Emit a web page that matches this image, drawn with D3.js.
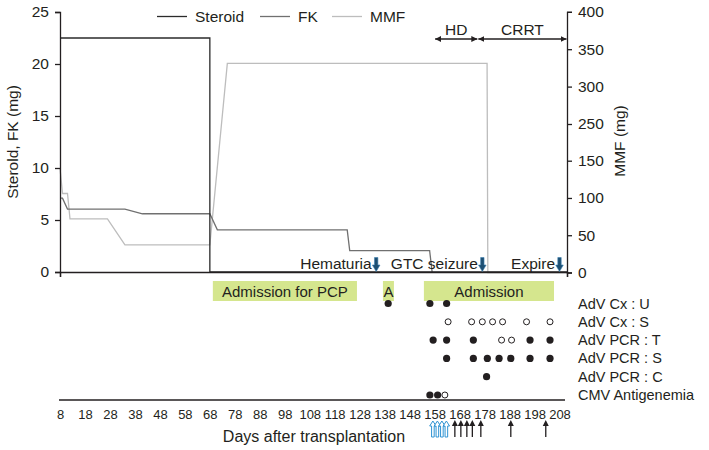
<!DOCTYPE html>
<html><head><meta charset="utf-8">
<script src="https://cdn.jsdelivr.net/npm/d3@7"></script>
<style>body{margin:0;background:#fff} text{font-family:"Liberation Sans",Arial,sans-serif;fill:#231f20}</style>
</head><body><svg id="c" width="709" height="450"></svg>
<script>
// ---- data ----
const steroid = [[8,22.5],[68,22.5],[68,0],[211,0]];
const fk = [[8,7.1],[9,7.1],[11,6.05],[34,6.05],[41,5.6],[68,5.6],[71,4.05],[123,4.05],[124,2.05],[156,2.05],[157,0]];
const mmf = [[8,140],[9,106],[11,106],[12,72],[27,72],[34,37],[68,37],[75,331],[179,331],[179.3,0],[211,0]];
const leftTicks = [0,5,10,15,20,25];
const rightTicks = [0,50,100,150,250,300,350,400];
const dayTicks = [8,18,28,38,48,58,68,78,88,98,108,118,128,138,148,158,168,178,188,198,208];
const periodLabels = ["HD","CRRT"];
const periodFrom = [158,175.3];
const periodTo = [175.3,211];
const eventLabels = ["Hematuria","GTC seizure","Expire"];
const eventDays = [134.6,177.1,208];
const admitLabels = ["Admission for PCP","A","Admission"];
const admitFrom = [69.2,137.3,153.7];
const admitTo = [126.9,141.7,205.8];
const rowLabels = ["AdV Cx : U","AdV Cx : S","AdV PCR : T","AdV PCR : S","AdV PCR : C","CMV Antigenemia"];
const rowPositive = [[139.4,156.1,162.8],[],[157.4,162.8,173.5,196.2,204.2],[162.8,173.5,179.1,183.8,188.5,196.2,204.2],[178.8],[156.1,159.2]];
const rowNegative = [[],[163.4,172.8,177.1,181.2,185.2,194.8,204.2],[184.8,188.8],[],[],[162.1]];
const blueArrowDays = [157.3,159.1,160.9,162.7];
const blackArrowDays = [166.1,168.5,170.9,173.1,176.5,188.5,202.5];

// ---- drawing ----
const svg = d3.select("#c");
const x = d3.scaleLinear().domain([8,211]).range([60,567]);
const yL = d3.scaleLinear().domain([0,25]).range([272,12]);
const yR = d3.scaleLinear().domain([0,150,250,400]).range([272.5,160.7,124,11.8]);
const FS = "15.5px";

const defs = svg.append("defs");
defs.append("marker").attr("id","ah").attr("viewBox","0 0 10 10").attr("refX",10).attr("refY",5)
  .attr("markerWidth",6).attr("markerHeight",6).attr("markerUnits","userSpaceOnUse").attr("orient","auto-start-reverse")
  .append("path").attr("d","M0,0L10,5L0,10Z").attr("fill","#231f20");

// lines
const lineL = d3.line().x(d=>x(d[0])).y(d=>yL(d[1]));
const lineR = d3.line().x(d=>x(d[0])).y(d=>yR(d[1]));
svg.append("path").attr("d",lineR(mmf)).attr("fill","none").attr("stroke","#bdbdbd").attr("stroke-width",1.3);
svg.append("path").attr("d",lineL(fk)).attr("fill","none").attr("stroke","#707070").attr("stroke-width",1.3);
svg.append("path").attr("d",lineL(steroid)).attr("fill","none").attr("stroke","#2b2b2b").attr("stroke-width",1.3);

// axes
const axL = svg.append("g").attr("transform","translate(60,0)")
  .call(d3.axisLeft(yL).tickValues(leftTicks).tickSize(5).tickPadding(6));
const axR = svg.append("g").attr("transform","translate(567,0)")
  .call(d3.axisRight(yR).tickValues(rightTicks).tickSize(5).tickPadding(6));
const axB = svg.append("g").attr("transform","translate(0,272)")
  .call(d3.axisBottom(x).tickValues([8,211]).tickSize(5).tickFormat(""));
[axL,axR,axB].forEach(a=>{
  a.selectAll("path,line").attr("stroke","#231f20").attr("stroke-width",1.3);
  a.selectAll("text").attr("font-size",FS).attr("fill","#231f20").style("font-family","'Liberation Sans',Arial,sans-serif");
});

// axis titles
svg.append("text").attr("transform","translate(18,142) rotate(-90)").attr("text-anchor","middle")
  .attr("font-size",FS).text("Sterold, FK (mg)");
svg.append("text").attr("transform","translate(625,141) rotate(-90)").attr("text-anchor","middle")
  .attr("font-size",FS).text("MMF (mg)");

// legend
const legNames = ["Steroid","FK","MMF"];
const legColors = ["#2b2b2b","#707070","#bdbdbd"];
const legX = [157,260,332];
legNames.forEach((n,i)=>{
  svg.append("line").attr("x1",legX[i]).attr("x2",legX[i]+30).attr("y1",16.5).attr("y2",16.5)
    .attr("stroke",legColors[i]).attr("stroke-width",1.3);
  svg.append("text").attr("x",legX[i]+38).attr("y",22).attr("font-size",FS).text(n);
});

// HD / CRRT periods
periodLabels.forEach((p,i)=>{
  const x1 = x(periodFrom[i])+0.5, x2 = x(periodTo[i])-0.5;
  svg.append("line").attr("x1",x1).attr("x2",x2).attr("y1",39).attr("y2",39)
    .attr("stroke","#231f20").attr("stroke-width",1.3)
    .attr("marker-start","url(#ah)").attr("marker-end","url(#ah)");
  svg.append("text").attr("x",(x1+x2)/2).attr("y",35).attr("text-anchor","middle").attr("font-size",FS).text(p);
});

// events
eventLabels.forEach((e,i)=>{
  const ex = x(eventDays[i]);
  svg.append("text").attr("x",ex-4.5).attr("y",269).attr("text-anchor","end").attr("font-size",FS).text(e);
  svg.append("path").attr("d",`M${ex-1.7},257.5L${ex+1.7},257.5L${ex+1.7},265L${ex+3.8},265L${ex},271.5L${ex-3.8},265L${ex-1.7},265Z`)
    .attr("fill","#1d4f73").attr("stroke","#3d7fb0").attr("stroke-width",0.6);
});

// admissions
admitLabels.forEach((a,i)=>{
  const x1 = x(admitFrom[i]), x2 = x(admitTo[i]);
  svg.append("rect").attr("x",x1).attr("y",281).attr("width",x2-x1).attr("height",20).attr("fill","#d5e68e");
  svg.append("text").attr("x",(x1+x2)/2).attr("y",297).attr("text-anchor","middle").attr("font-size","15px").text(a);
});

// dot rows
const rowY = d3.scalePoint().domain(rowLabels).range([303.5,395]);
rowLabels.forEach((r,i)=>{
  const yy = rowY(r);
  svg.append("text").attr("x",578).attr("y",yy+5).attr("font-size","14.5px").text(r);
  rowPositive[i].forEach(d=>svg.append("circle").attr("cx",x(d)).attr("cy",yy).attr("r",3.6).attr("fill","#231f20"));
  rowNegative[i].forEach(d=>svg.append("circle").attr("cx",x(d)).attr("cy",yy).attr("r",3).attr("fill","#fff").attr("stroke","#231f20").attr("stroke-width",1));
});

// bottom timeline axis
const axT = svg.append("g").attr("transform","translate(0,400)")
  .call(d3.axisBottom(x).tickValues(dayTicks).tickSize(0).tickPadding(10));
axT.select(".domain").attr("d","M59,0H565").attr("stroke","#231f20").attr("stroke-width",1.3);
axT.selectAll("text").attr("font-size","13px").attr("fill","#231f20").style("font-family","'Liberation Sans',Arial,sans-serif");
svg.append("text").attr("x",314).attr("y",441.5).attr("text-anchor","middle").attr("font-size","16px").text("Days after transplantation");

// bottom arrows
blueArrowDays.forEach(d=>{
  const ax = x(d);
  svg.append("path").attr("d",`M${ax-1.3},437L${ax-1.3},426L${ax-3.2},426L${ax},421L${ax+3.2},426L${ax+1.3},426L${ax+1.3},437Z`)
    .attr("fill","#fff").attr("stroke","#2f93d3").attr("stroke-width",1);
});
blackArrowDays.forEach(d=>{
  const ax = x(d);
  svg.append("line").attr("x1",ax).attr("x2",ax).attr("y1",437).attr("y2",425).attr("stroke","#231f20").attr("stroke-width",1.3);
  svg.append("path").attr("d",`M${ax-3},426L${ax},420L${ax+3},426Z`).attr("fill","#231f20");
});
</script></body></html>
